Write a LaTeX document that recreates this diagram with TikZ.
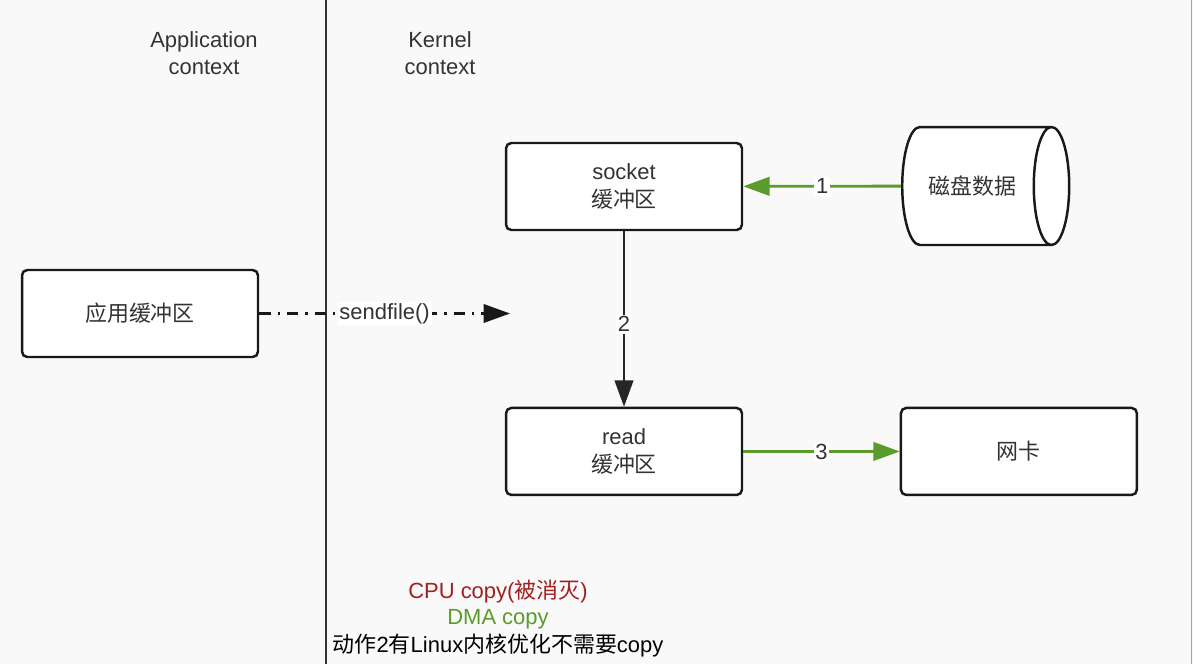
\documentclass[tikz,border=0pt]{standalone}
\usepackage{fontspec}
\setmainfont{Liberation Sans}
\newfontfamily\cjk{Noto Sans CJK SC}
\usepackage{xcolor}
\usepackage{tikz}
\usetikzlibrary{shapes.geometric,arrows.meta}

\definecolor{bggray}{HTML}{F9F9F9}
\definecolor{txtgray}{HTML}{333333}
\definecolor{dmagreen}{HTML}{5B9B2C}
\definecolor{cpured}{HTML}{A11F1F}

\begin{document}
\begin{tikzpicture}[x=0.02cm, y=-0.02cm, >={Triangle[length=15pt,width=10.5pt]}, node distance=5.3cm,
  font=\fontsize{12.5}{15.5}\selectfont, text=txtgray,
  buf/.style={draw=black!90, line width=1.4pt, rounded corners=3pt, fill=white, minimum width=4.72cm, minimum height=1.74cm, align=center},
  disk/.style={cylinder, draw=black!90, line width=1.4pt, fill=white, minimum width=2.36cm, minimum height=3.34cm, aspect=1.1},
  dma/.style={->, draw=dmagreen, line width=1.6pt},
  cpu/.style={->, draw=black!85, line width=1.6pt},
  sfcall/.style={->, draw=black!90, line width=1.3pt, dash pattern=on 6.5pt off 4pt on 1.3pt off 4pt},
  num/.style={fill=white, inner sep=1pt}]

% canvas
\fill[bggray] (0,0) rectangle (1193,664);
\useasboundingbox (0,0) rectangle (1193,664);
\draw[line width=1.5pt, txtgray] (326,0) -- (326,664);
\draw[line width=0.6pt, gray!70] (1191.5,0) -- (1191.5,664);

\node[align=center] (apptitle) at (204,53) {Application\\context};
\node[align=center] (kertitle) at (440,53) {Kernel\\context};

\node[buf] (appbuf) at (140,313.5) {\cjk 应用缓冲区};
\node[buf] (sockbuf) at (624,186.5) {socket\\{\cjk 缓冲区}};
\node[buf] (readbuf) [below of=sockbuf] {read\\{\cjk 缓冲区}};
\node[buf] (nic) [node distance=7.9cm, right of=readbuf] {\cjk 网卡};
\node[disk, anchor=west] (disk) at (901,186) {\cjk 磁盘数据};
\coordinate (sfend) at (510,313.5);

\path
(disk) edge [dma] node [num] {1} (sockbuf)
(sockbuf) edge [cpu] node [num, yshift=-3pt] {2} (readbuf)
(readbuf) edge [dma] node [num] {3} (nic)
(appbuf) edge [sfcall] node [num] {sendfile()} (sfend);

\node[text=cpured] (cpunote) at (498,592) {CPU copy({\cjk 被消灭})};
\node[text=dmagreen] (dmanote) at (498,619) {DMA copy};
\node[text=black] (optnote) at (498,645) {{\cjk 动作}2{\cjk 有}Linux{\cjk 内核优化不需要}copy};

\end{tikzpicture}
\end{document}
